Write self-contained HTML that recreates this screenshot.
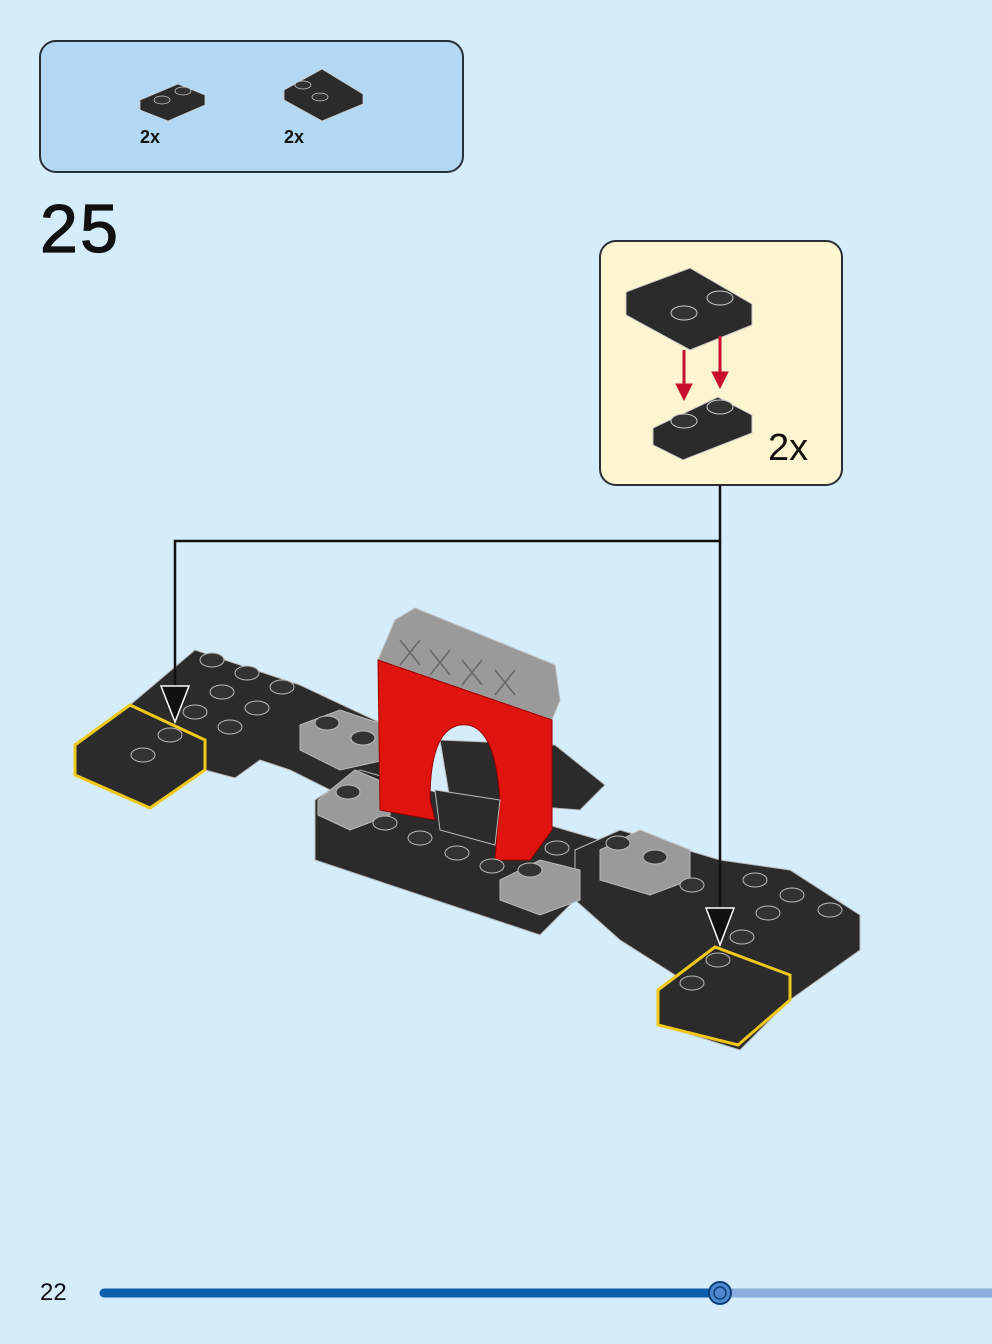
<!DOCTYPE html>
<html><head><style>
body{margin:0;width:992px;height:1339px;background:#d5ecfb;overflow:hidden;font-family:"Liberation Sans",sans-serif;}
</style></head><body>
<svg width="992" height="1339" viewBox="0 0 992 1339" xmlns="http://www.w3.org/2000/svg">
<rect width="992" height="1339" fill="#d5ecfb"/>
<rect x="40" y="41" width="423" height="131" rx="16" fill="#b3d8f3" stroke="#2a2f36" stroke-width="2"/>
<g stroke="#ccc" stroke-width="0.8">
<polygon points="140,100 178,84 205,95 205,105 168,121 140,110" fill="#2b2b2b"/>
<ellipse cx="162" cy="100" rx="8" ry="4" fill="#333"/><ellipse cx="183" cy="91" rx="8" ry="4" fill="#333"/>
<polygon points="284,90 322,69 363,94 363,104 322,121 284,100" fill="#2b2b2b"/>
<ellipse cx="303" cy="85" rx="8" ry="4" fill="#333"/><ellipse cx="320" cy="97" rx="8" ry="4" fill="#333"/>
</g>
<text x="140" y="143" font-size="18" font-weight="bold" fill="#111">2x</text>
<text x="284" y="143" font-size="18" font-weight="bold" fill="#111">2x</text>
<text x="40" y="252" font-size="68" fill="#111" stroke="#111" stroke-width="1.2" textLength="78">25</text>
<rect x="600" y="241" width="242" height="244" rx="16" fill="#fdf5cf" stroke="#2a2f36" stroke-width="2"/>
<g stroke="#ccc" stroke-width="1">
<polygon points="626,292 690,268 752,304 752,325 690,350 626,315" fill="#2b2b2b"/>
<ellipse cx="684" cy="313" rx="13" ry="7" fill="#333"/><ellipse cx="720" cy="298" rx="13" ry="7" fill="#333"/>
<polygon points="653,428 718,397 752,415 752,433 683,460 653,445" fill="#2b2b2b"/>
<ellipse cx="684" cy="421" rx="13" ry="7" fill="#333"/><ellipse cx="720" cy="407" rx="13" ry="7" fill="#333"/>
</g>
<g fill="#c8102e" stroke="#c8102e"><line x1="684" y1="350" x2="684" y2="392" stroke-width="3"/><polygon points="676,384 692,384 684,400"/>
<line x1="720" y1="336" x2="720" y2="380" stroke-width="3"/><polygon points="712,372 728,372 720,388"/></g>
<text x="768" y="460" font-size="38" fill="#111">2x</text>
<g stroke="#bbb" stroke-width="1">
<polygon points="130,705 195,650 300,685 385,725 385,790 340,795 290,770 260,760 235,778 205,770" fill="#2b2b2b"/>
<polygon points="440,740 555,745 605,785 580,810 450,800" fill="#2b2b2b"/>
<polygon points="315,800 360,770 600,840 575,900 540,935 315,860" fill="#2b2b2b"/>
<polygon points="575,850 620,830 720,860 790,870 860,915 860,950 790,1000 740,1050 660,1025 660,1000 675,975 620,940 575,900" fill="#2b2b2b"/>
<polygon points="300,725 340,710 385,725 385,760 340,770 300,750" fill="#9a9a9a"/>
<polygon points="318,800 355,770 390,785 390,815 350,830 318,815" fill="#9a9a9a"/>
<polygon points="500,880 540,860 580,870 580,900 540,915 500,900" fill="#9a9a9a"/>
<polygon points="600,850 640,830 690,850 690,880 650,895 600,880" fill="#9a9a9a"/>
<polygon points="75,745 130,705 205,740 205,770 150,808 75,775" fill="#2b2b2b" stroke="#f0c81a" stroke-width="3"/>
<polygon points="658,990 715,947 790,975 790,1000 738,1045 658,1025" fill="#2b2b2b" stroke="#f0c81a" stroke-width="3"/>
<polygon points="395,620 415,608 555,665 560,700 552,720 378,660" fill="#9a9a9a"/>
<path d="M378,660 L552,720 L552,830 L530,860 L495,860 L500,800 Q495,720 460,725 Q430,730 430,800 L435,820 L380,810 Z" fill="#e0140e" stroke="#900"/>
<polygon points="435,790 500,800 495,845 440,830" fill="#2b2b2b"/>
</g>
<g fill="none" stroke="#666" stroke-width="1.5">
<path d="M400,640 l20,25 M420,640 l-20,25 M430,650 l20,25 M450,650 l-20,25 M462,660 l20,25 M482,660 l-20,25 M495,670 l20,25 M515,670 l-20,25"/>
</g>
<g fill="#333" stroke="#bbb" stroke-width="1">
<ellipse cx="212" cy="660" rx="12" ry="7"/><ellipse cx="247" cy="673" rx="12" ry="7"/><ellipse cx="282" cy="687" rx="12" ry="7"/>
<ellipse cx="222" cy="692" rx="12" ry="7"/><ellipse cx="257" cy="708" rx="12" ry="7"/><ellipse cx="195" cy="712" rx="12" ry="7"/><ellipse cx="230" cy="727" rx="12" ry="7"/>
<ellipse cx="170" cy="735" rx="12" ry="7"/><ellipse cx="143" cy="755" rx="12" ry="7"/>
<ellipse cx="327" cy="723" rx="12" ry="7"/><ellipse cx="363" cy="738" rx="12" ry="7"/><ellipse cx="348" cy="792" rx="12" ry="7"/>
<ellipse cx="385" cy="823" rx="12" ry="7"/><ellipse cx="420" cy="838" rx="12" ry="7"/><ellipse cx="457" cy="853" rx="12" ry="7"/><ellipse cx="492" cy="866" rx="12" ry="7"/>
<ellipse cx="530" cy="870" rx="12" ry="7"/><ellipse cx="557" cy="848" rx="12" ry="7"/><ellipse cx="618" cy="843" rx="12" ry="7"/><ellipse cx="655" cy="857" rx="12" ry="7"/>
<ellipse cx="692" cy="885" rx="12" ry="7"/><ellipse cx="755" cy="880" rx="12" ry="7"/><ellipse cx="792" cy="895" rx="12" ry="7"/><ellipse cx="830" cy="910" rx="12" ry="7"/>
<ellipse cx="768" cy="913" rx="12" ry="7"/><ellipse cx="742" cy="937" rx="12" ry="7"/><ellipse cx="718" cy="960" rx="12" ry="7"/><ellipse cx="692" cy="983" rx="12" ry="7"/>
</g>
<g stroke="#111" stroke-width="2.5" fill="none">
<polyline points="720,485 720,541 175,541 175,700"/>
<line x1="720" y1="541" x2="720" y2="925"/>
</g>
<polygon points="161,686 189,686 175,722" fill="#111" stroke="#fff" stroke-width="1.5"/>
<polygon points="706,908 734,908 720,945" fill="#111" stroke="#fff" stroke-width="1.5"/>
<text x="40" y="1300" font-size="24" fill="#111">22</text>
<line x1="104" y1="1293" x2="720" y2="1293" stroke="#0d5eaf" stroke-width="9" stroke-linecap="round"/>
<line x1="720" y1="1293" x2="992" y2="1293" stroke="#8caedf" stroke-width="9"/>
<circle cx="720" cy="1293" r="11" fill="#4f88cf" stroke="#0c3f7a" stroke-width="2"/>
<circle cx="720" cy="1293" r="6" fill="none" stroke="#0c3f7a" stroke-width="1.5"/>
</svg>
</body></html>
